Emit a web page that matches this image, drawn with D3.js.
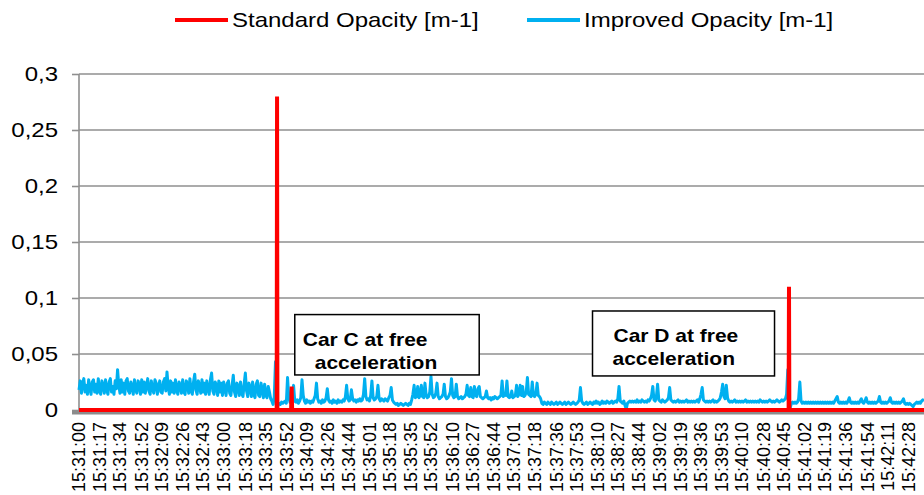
<!DOCTYPE html>
<html>
<head>
<meta charset="utf-8">
<script src="https://cdn.jsdelivr.net/npm/d3@7"></script>
<style>
  body { margin: 0; background: #fff; }
  svg { display: block; font-family: Arial, "Liberation Sans", sans-serif; }
</style>
</head>
<body>
<div id="chart"></div>
<script>
var seriesNames = ['Standard Opacity [m-1]', 'Improved Opacity [m-1]'];

var yTicks = [0, 0.05, 0.1, 0.15, 0.2, 0.25, 0.3];

var timeLabels = ['15:31:00', '15:31:17', '15:31:34', '15:31:52', '15:32:09', '15:32:26',
  '15:32:43', '15:33:00', '15:33:18', '15:33:35', '15:33:52', '15:34:09', '15:34:26',
  '15:34:44', '15:35:01', '15:35:18', '15:35:35', '15:35:52', '15:36:10', '15:36:27',
  '15:36:44', '15:37:01', '15:37:18', '15:37:36', '15:37:53', '15:38:10', '15:38:27',
  '15:38:44', '15:39:02', '15:39:19', '15:39:36', '15:39:53', '15:40:10', '15:40:28',
  '15:40:45', '15:41:02', '15:41:19', '15:41:36', '15:41:54', '15:42:11', '15:42:28'];

var startTime = '15:31:00';
var endTime = '15:42:41';

// improved opacity, one reading per second from 15:31:00
var sampleStep = 1;
var improved = [
  // 15:31:00 - car C idle, wide noisy band
  0.018, 0.026, 0.015, 0.024, 0.028, 0.016, 0.022, 0.014, 0.027, 0.019,
  0.014, 0.025, 0.027, 0.016, 0.023, 0.015, 0.028, 0.017, 0.014, 0.026,
  0.022, 0.015, 0.027, 0.018, 0.014, 0.025, 0.028, 0.016, 0.021, 0.014,
  0.026, 0.019, 0.036, 0.022, 0.015, 0.027, 0.016, 0.024, 0.014, 0.026,
  0.028, 0.017, 0.015, 0.025, 0.021, 0.014, 0.027, 0.018, 0.015, 0.026,
  0.023, 0.014, 0.027, 0.016, 0.025, 0.015, 0.022, 0.028, 0.017, 0.014,
  0.026, 0.019, 0.015, 0.027, 0.024, 0.014, 0.021, 0.026, 0.016, 0.015,
  0.025, 0.028, 0.017, 0.034, 0.020, 0.014, 0.026, 0.016, 0.024, 0.015,
  0.027, 0.018, 0.014, 0.025, 0.022, 0.015, 0.027, 0.016, 0.014, 0.026,
  0.023, 0.015, 0.028, 0.017, 0.014, 0.025, 0.032, 0.018, 0.014, 0.026,
  0.021, 0.015, 0.027, 0.016, 0.024, 0.014, 0.026, 0.019, 0.014, 0.027,
  0.033, 0.017, 0.014, 0.025, 0.022, 0.013, 0.026, 0.016, 0.024, 0.013,
  0.025, 0.019, 0.013, 0.024, 0.026, 0.015, 0.013, 0.022, 0.031, 0.016,
  0.012, 0.024, 0.021, 0.013, 0.025, 0.015, 0.012, 0.023, 0.033, 0.017,
  0.012, 0.024, 0.020, 0.012, 0.025, 0.014, 0.011, 0.023, 0.026, 0.013,
  0.012, 0.024, 0.018, 0.011, 0.023, 0.013, 0.011, 0.021, 0.016, 0.010,
  0.008, 0.005, 0.012, 0.043, 0.009, 0.004, 0.006, 0.005, 0.007, 0.006,
  // 15:33:50 - car C free acceleration
  0.007, 0.008, 0.006, 0.029, 0.012, 0.007, 0.009, 0.015, 0.022, 0.008,
  0.007, 0.009, 0.006, 0.008, 0.011, 0.027, 0.013, 0.008, 0.006, 0.009,
  0.007, 0.008, 0.006, 0.008, 0.007, 0.010, 0.013, 0.024, 0.010, 0.007,
  0.008, 0.006, 0.009, 0.007, 0.008, 0.011, 0.019, 0.009, 0.007, 0.008,
  0.006, 0.009, 0.007, 0.008, 0.006, 0.009, 0.007, 0.008, 0.007, 0.009,
  0.008, 0.012, 0.022, 0.010, 0.008, 0.009, 0.018, 0.010, 0.008, 0.009,
  0.007, 0.009, 0.008, 0.010, 0.008, 0.009, 0.014, 0.028, 0.012, 0.009,
  0.010, 0.008, 0.013, 0.026, 0.011, 0.009, 0.010, 0.012, 0.022, 0.010,
  0.008, 0.010, 0.009, 0.008, 0.010, 0.009, 0.008, 0.011, 0.013, 0.020,
  0.009, 0.007, 0.006, 0.005, 0.006, 0.004, 0.005, 0.006, 0.005, 0.004,
  0.005, 0.006, 0.005, 0.004, 0.006, 0.005, 0.009, 0.014, 0.022, 0.011,
  0.012, 0.021, 0.011, 0.013, 0.022, 0.012, 0.011, 0.024, 0.013, 0.011,
  0.012, 0.016, 0.030, 0.014, 0.011, 0.012, 0.015, 0.024, 0.012, 0.010,
  0.011, 0.012, 0.014, 0.023, 0.012, 0.010, 0.011, 0.013, 0.016, 0.028,
  0.013, 0.011, 0.012, 0.023, 0.012, 0.010, 0.011, 0.012, 0.010, 0.011,
  0.012, 0.014, 0.022, 0.013, 0.012, 0.020, 0.012, 0.011, 0.021, 0.013,
  0.012, 0.019, 0.021, 0.012, 0.011, 0.010, 0.011, 0.012, 0.017, 0.011,
  0.010, 0.011, 0.009, 0.011, 0.010, 0.012, 0.011, 0.010, 0.011, 0.012,
  0.013, 0.026, 0.012, 0.014, 0.013, 0.026, 0.012, 0.011, 0.012, 0.017,
  0.011, 0.012, 0.013, 0.022, 0.012, 0.014, 0.022, 0.013, 0.021, 0.012,
  0.013, 0.016, 0.029, 0.014, 0.013, 0.012, 0.025, 0.013, 0.012, 0.014,
  0.024, 0.013, 0.012, 0.010, 0.006, 0.005, 0.007, 0.006, 0.005, 0.007,
  // 15:37:30 - car D idle
  0.006, 0.005, 0.007, 0.006, 0.005, 0.006, 0.007, 0.005, 0.006, 0.007,
  0.006, 0.005, 0.006, 0.007, 0.005, 0.006, 0.007, 0.006, 0.005, 0.006,
  0.007, 0.006, 0.005, 0.006, 0.007, 0.009, 0.020, 0.008, 0.006, 0.005,
  0.006, 0.007, 0.005, 0.006, 0.007, 0.006, 0.005, 0.007, 0.006, 0.008,
  0.006, 0.007, 0.005, 0.006, 0.008, 0.006, 0.007, 0.006, 0.008, 0.007,
  0.006, 0.007, 0.008, 0.006, 0.007, 0.008, 0.007, 0.010, 0.021, 0.008,
  0.007, 0.006, 0.008, 0.004, 0.001, 0.006, 0.007, 0.008, 0.007, 0.008,
  0.007, 0.008, 0.007, 0.009, 0.007, 0.008, 0.007, 0.009, 0.008, 0.007,
  0.008, 0.007, 0.009, 0.008, 0.010, 0.013, 0.021, 0.009, 0.008, 0.012,
  0.023, 0.009, 0.008, 0.007, 0.009, 0.008, 0.007, 0.008, 0.009, 0.011,
  0.020, 0.009, 0.008, 0.007, 0.008, 0.007, 0.008, 0.009, 0.007, 0.008,
  0.007, 0.008, 0.007, 0.008, 0.009, 0.007, 0.008, 0.007, 0.008, 0.007,
  0.008, 0.007, 0.008, 0.009, 0.007, 0.010, 0.014, 0.020, 0.009, 0.008,
  0.007, 0.008, 0.007, 0.008, 0.007, 0.008, 0.009, 0.007, 0.008, 0.007,
  0.008, 0.009, 0.011, 0.016, 0.023, 0.012, 0.010, 0.022, 0.011, 0.008,
  0.007, 0.008, 0.007, 0.008, 0.009, 0.007, 0.008, 0.007, 0.008, 0.007,
  0.008, 0.007, 0.008, 0.009, 0.007, 0.008, 0.007, 0.008, 0.007, 0.008,
  0.007, 0.008, 0.007, 0.008, 0.007, 0.009, 0.008, 0.007, 0.008, 0.007,
  0.008, 0.007, 0.008, 0.009, 0.008, 0.007, 0.008, 0.007, 0.008, 0.009,
  0.008, 0.007, 0.008, 0.009, 0.008, 0.009, 0.010, 0.014, 0.036, 0.004,
  // 15:40:50 - car D free acceleration
  0.002, 0.006, 0.007, 0.006, 0.007, 0.006, 0.007, 0.010, 0.025, 0.008,
  0.006, 0.007, 0.006, 0.007, 0.006, 0.007, 0.006, 0.007, 0.006, 0.007,
  0.006, 0.007, 0.006, 0.007, 0.006, 0.007, 0.006, 0.007, 0.006, 0.007,
  0.006, 0.007, 0.006, 0.007, 0.006, 0.007, 0.006, 0.008, 0.010, 0.012,
  0.007, 0.006, 0.007, 0.006, 0.007, 0.006, 0.007, 0.006, 0.008, 0.011,
  0.007, 0.006, 0.007, 0.006, 0.007, 0.006, 0.007, 0.006, 0.008, 0.010,
  0.007, 0.006, 0.008, 0.011, 0.007, 0.006, 0.007, 0.006, 0.007, 0.006,
  0.007, 0.006, 0.007, 0.008, 0.012, 0.007, 0.006, 0.007, 0.006, 0.007,
  0.006, 0.007, 0.008, 0.011, 0.007, 0.006, 0.007, 0.006, 0.007, 0.006,
  0.007, 0.006, 0.007, 0.008, 0.010, 0.006, 0.005, 0.006, 0.005, 0.006,
  0.005, 0.004, 0.003, 0.005, 0.006, 0.007, 0.006, 0.007, 0.006, 0.008,
  0.009, 0.008
];

// standard opacity: flat at zero apart from the peaks
var standardTimes = [0, 164, 164.3, 164.6, 176, 176.4, 176.8, 588.7, 589, 589.3, 701];
var standardValues = [0, 0, 0.28, 0, 0, 0.021, 0, 0, 0.11, 0, 0];

var colors = ['#ff0000', '#00b0f0'];

var width = 924,
  height = 495,
  margin = {
    top: 74,
    right: 0,
    bottom: 85,
    left: 79
  };

var stretch = 1.2; // horizontal text in the original is set wide

function toSec(s) {
  var p = s.split(':').map(Number);
  var p0 = startTime.split(':').map(Number);
  return (p[0] * 3600 + p[1] * 60 + p[2]) - (p0[0] * 3600 + p0[1] * 60 + p0[2]);
}

var svg = d3.select('#chart')
  .append('svg')
  .attr('width', width)
  .attr('height', height);

var x = d3.scaleLinear()
  .domain([0, toSec(endTime)])
  .range([margin.left, width - margin.right]);

var y = d3.scaleLinear()
  .domain([0, 0.3])
  .range([height - margin.bottom, margin.top]);

// gridlines
svg.append('g')
  .selectAll('line')
  .data(yTicks.filter(d => d > 0))
  .enter()
  .append('line')
  .attr('x1', margin.left)
  .attr('x2', width)
  .attr('y1', d => y(d))
  .attr('y2', d => y(d))
  .attr('stroke', '#8f8f8f')
  .attr('stroke-width', 1.6);

// y axis
var yAxis = svg.append('g')
  .attr('transform', 'translate(' + margin.left + ',0)')
  .call(d3.axisLeft(y)
    .tickValues(yTicks)
    .tickSize(7)
    .tickFormat(d => String(d).replace('.', ',')));

yAxis.select('.domain')
  .attr('stroke', '#8f8f8f')
  .attr('stroke-width', 1.6)
  .attr('d', 'M0,' + y(0.3) + 'V' + (y(0) + 4));

yAxis.selectAll('.tick line')
  .attr('stroke', '#8f8f8f')
  .attr('stroke-width', 1.6);

yAxis.selectAll('.tick text')
  .attr('x', -21 / stretch)
  .attr('transform', 'scale(' + stretch + ',1)')
  .attr('fill', '#000')
  .style('font-size', '20px');

// x axis line
svg.append('line')
  .attr('x1', margin.left - 7)
  .attr('x2', width)
  .attr('y1', y(0) + 2.5)
  .attr('y2', y(0) + 2.5)
  .attr('stroke', '#8c8c8c')
  .attr('stroke-width', 4);

// x tick labels
svg.append('g')
  .selectAll('text')
  .data(timeLabels)
  .enter()
  .append('text')
  .attr('transform', d => 'translate(' + x(toSec(d)) + ',' + (y(0) + 12) + ') rotate(-90)')
  .attr('dy', '0.35em')
  .attr('text-anchor', 'end')
  .style('font-size', '18px')
  .text(d => d);

// series
var lineImproved = d3.line()
  .x((d, i) => x(i * sampleStep))
  .y(d => y(d));

svg.append('path')
  .datum(improved)
  .attr('fill', 'none')
  .attr('stroke', colors[1])
  .attr('stroke-width', 3)
  .attr('stroke-linejoin', 'round')
  .attr('d', lineImproved);

var lineStandard = d3.line()
  .x(d => x(d[0]))
  .y(d => y(d[1]));

svg.append('path')
  .datum(d3.zip(standardTimes, standardValues))
  .attr('fill', 'none')
  .attr('stroke', colors[0])
  .attr('stroke-width', 4)
  .attr('d', lineStandard);

// annotation boxes
var notes = [{
  lines: ['Car C at free', 'acceleration'],
  from: '15:33:59',
  to: '15:36:32',
  top: 0.0852,
  bottom: 0.0313,
  dx: [8, 20],
  dy: [31, 54]
}, {
  lines: ['Car D at free', 'acceleration'],
  from: '15:38:06',
  to: '15:40:37',
  top: 0.0884,
  bottom: 0.0304,
  dx: [21, 20],
  dy: [31, 54]
}];

notes.forEach(n => {
  var x0 = x(toSec(n.from)),
    x1 = x(toSec(n.to)),
    y0 = y(n.top),
    y1 = y(n.bottom);
  svg.append('rect')
    .attr('x', x0)
    .attr('y', y0)
    .attr('width', x1 - x0)
    .attr('height', y1 - y0)
    .attr('fill', '#fff')
    .attr('stroke', '#000')
    .attr('stroke-width', 1.5);
  n.lines.forEach((t, i) => {
    svg.append('text')
      .attr('transform', 'translate(' + (x0 + n.dx[i]) + ',' + (y0 + n.dy[i]) + ') scale(' + stretch + ',1)')
      .style('font-size', '17.5px')
      .style('font-weight', 'bold')
      .text(t);
  });
});

// legend
var legendPos = [{ x1: 175, x2: 228 }, { x1: 527, x2: 580 }];
var legend = svg.append('g');
seriesNames.forEach((name, i) => {
  legend.append('line')
    .attr('x1', legendPos[i].x1)
    .attr('x2', legendPos[i].x2)
    .attr('y1', 20)
    .attr('y2', 20)
    .attr('stroke', colors[i])
    .attr('stroke-width', 4);
  legend.append('text')
    .attr('transform', 'translate(' + (legendPos[i].x2 + 4) + ',27) scale(' + stretch + ',1)')
    .style('font-size', '20px')
    .text(name);
});
</script>
</body>
</html>
